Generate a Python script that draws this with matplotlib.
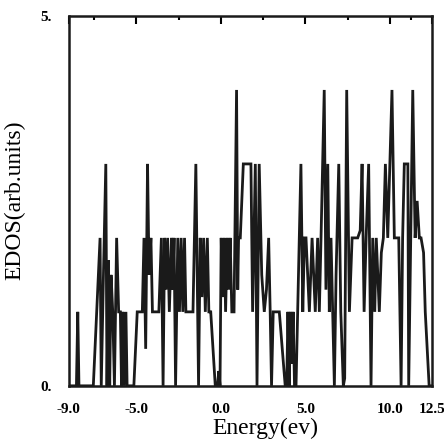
import matplotlib
matplotlib.use("Agg")
import matplotlib.pyplot as plt

energy = [-9.00, -8.55, -8.47, -8.40,
          -7.55, -7.15, -7.08, -6.95, -6.81, -6.74, -6.66, -6.58, -6.50, -6.40, -6.30,
          -6.17, -6.05, -5.95, -5.88, -5.80, -5.72, -5.62, -5.55,
          -5.15, -4.95, -4.65, -4.55, -4.45, -4.34, -4.25, -4.14, -4.05, -3.67,
          -3.52, -3.42, -3.33, -3.25, -3.15, -3.05, -2.92, -2.85, -2.77, -2.68,
          -2.55, -2.45, -2.35, -2.25, -2.15, -2.07, -1.65, -1.48, -1.32,
          -1.22, -1.12, -1.02, -0.92, -0.80, -0.71, -0.60, -0.33, -0.20, -0.12, -0.05,
          0.02, 0.10, 0.20, 0.28, 0.38, 0.46, 0.55, 0.65, 0.78, 0.93, 1.00, 1.05, 1.15,
          1.33, 1.78, 1.88, 2.04, 2.14, 2.27, 2.42, 2.57, 2.70, 2.83, 2.92, 3.00,
          3.10, 3.46, 3.81, 3.90, 3.97, 4.05, 4.12, 4.20, 4.28, 4.36, 4.45,
          4.74, 4.85, 4.95, 5.04, 5.24, 5.40, 5.59, 5.73, 5.83, 5.93, 6.12, 6.22,
          6.33, 6.42, 6.52, 6.72, 6.82, 6.98, 7.10, 7.25, 7.33, 7.45, 7.61, 7.77,
          8.10, 8.25, 8.36, 8.48, 8.60, 8.75, 8.89, 8.99, 9.11, 9.20, 9.29, 9.38,
          9.50, 9.62, 9.74, 9.88, 10.13, 10.27, 10.53, 10.67, 10.76, 10.86, 11.07,
          11.12, 11.36, 11.50, 11.62, 11.75, 11.85, 12.00, 12.10, 12.33, 12.50]

edos = [0, 0, 1, 0,
        0, 2, 0, 1.5, 3, 0, 1.7, 0, 1.5, 1, 0,
        2, 1, 1, 0, 1, 0, 1, 0,
        0, 1, 1, 2, 0.5, 3, 1.5, 2, 1, 1,
        2, 0, 2, 1.3, 2, 1, 2, 1.3, 2, 0,
        2, 1, 2, 1, 2, 1, 1, 3, 0,
        2, 1.2, 2, 1, 2, 1, 1, 0, 0, 0.2, 0,
        2, 1.2, 2, 1, 2, 1.3, 2, 1, 1, 4, 1.3, 2, 2,
        3, 3, 1, 3, 0, 3, 1.5, 1, 1.3, 2, 1, 0,
        1, 1, 0, 0, 1, 0, 1, 0.3, 1, 0, 0,
        3, 1, 2, 2, 1, 2, 1, 2, 1, 2, 4, 1.3,
        3, 1, 2, 0, 1.5, 3, 1, 0, 0.1, 4, 1, 2,
        2, 2.1, 3, 1, 2, 3, 0, 2, 1, 2, 1.5, 1,
        1.8, 2, 3, 2, 4, 2, 2, 0, 2, 3, 3,
        0, 4, 2, 2.5, 2, 2, 1.8, 1, 0, 0]

major_ticks = [-9.0, -5.0, 0.0, 5.0, 10.0, 12.5]
major_labels = ["-9.0", "-5.0", "0.0", "5.0", "10.0", "12.5"]
minor_ticks = [-7.5, -2.5, 2.5, 7.5, 11.25]
y_ticks = [0, 5]
y_labels = ["0.", "5."]

fig = plt.figure(figsize=(4.44, 4.44), dpi=100)
ax = fig.add_axes([0.155, 0.131, 0.818, 0.833])
ax.plot(energy, edos, color="#1a1a1a", lw=2.0, solid_joinstyle="miter")
ax.set_xlim(-9.0, 12.5)
ax.set_ylim(0, 5)

for s in ax.spines.values():
    s.set_linewidth(1.8)
    s.set_color("#1a1a1a")

tick_font = dict(fontfamily="Liberation Serif", fontweight="bold", fontsize=11)
ax.set_xticks(major_ticks)
ax.set_xticklabels(major_labels, **tick_font)
ax.set_xticks(minor_ticks, minor=True)
ax.tick_params(axis="x", which="major", top=True, bottom=False, labelbottom=True,
               direction="in", length=6, width=1.5, pad=12)
ax.tick_params(axis="x", which="minor", top=True, bottom=False, direction="in",
               length=3, width=1.5)
ax.set_yticks(y_ticks)
ax.set_yticklabels(y_labels, **tick_font)
ax.tick_params(axis="y", left=False, length=0, pad=12)

fig.text(265 / 444, 1 - 428 / 444, "Energy(ev)", fontfamily="Liberation Serif",
         fontsize=17, ha="center", va="center")
fig.text(15 / 444, 1 - 200 / 444, "EDOS(arb.units)", fontfamily="Liberation Serif",
         fontsize=17, rotation=90, ha="center", va="center")

fig.savefig("out.png", dpi=100)
